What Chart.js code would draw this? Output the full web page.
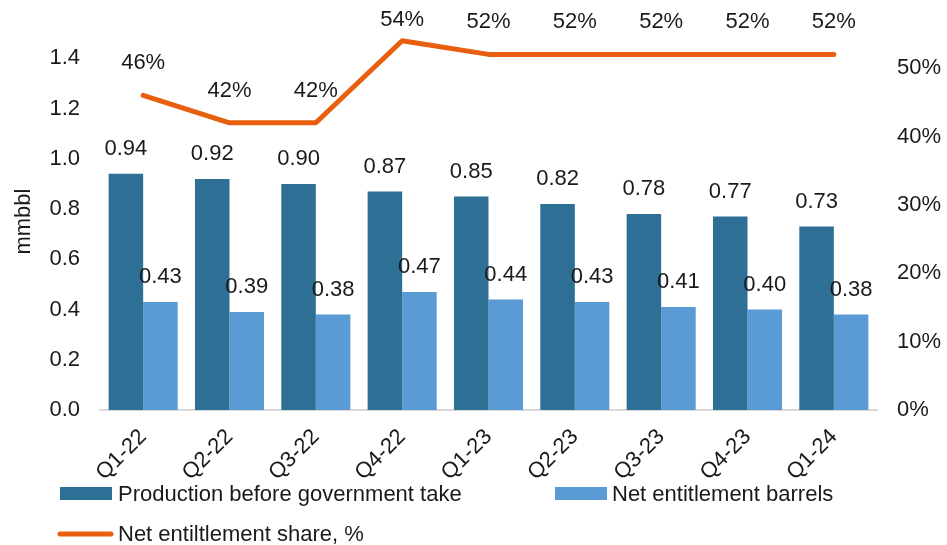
<!DOCTYPE html>
<html><head><meta charset="utf-8">
<script src="https://cdn.jsdelivr.net/npm/chart.js@4"></script>
<style>html,body{margin:0;padding:0;background:#fff}#wrap{width:947px;height:545px}</style>
</head><body><div id="wrap"><canvas id="c"></canvas></div>
<script>
const categories = ["Q1-22","Q2-22","Q3-22","Q4-22","Q1-23","Q2-23","Q3-23","Q4-23","Q1-24"];
const production = [0.94,0.92,0.90,0.87,0.85,0.82,0.78,0.77,0.73];
const netBarrels = [0.43,0.39,0.38,0.47,0.44,0.43,0.41,0.40,0.38];
const netShare = [0.46,0.42,0.42,0.54,0.52,0.52,0.52,0.52,0.52];
const seriesNames = ["Production before government take","Net entitlement barrels","Net entiltlement share, %"];

const FONT = "'Liberation Sans', Arial, sans-serif";
const FS = 22;
const DARK = "#2E6F96", LIGHT = "#5B9BD5", ORANGE = "#E8600F";

const labelPlugin = {
  id: 'valLabels',
  afterDatasetsDraw(chart) {
    const ctx = chart.ctx;
    ctx.save();
    ctx.font = FS + "px " + FONT;
    ctx.fillStyle = "#1a1a1a";
    ctx.textAlign = "center";
    ctx.textBaseline = "middle";
    chart.data.datasets.forEach((ds, di) => {
      const meta = chart.getDatasetMeta(di);
      meta.data.forEach((el, i) => {
        const v = ds.data[i];
        if (ds.type === 'line') {
          ctx.fillText(Math.round(v * 100) + "%", el.x, Math.max(el.y - 32, 20));
        } else {
          ctx.fillText(v.toFixed(2), el.x, el.y - 25);
        }
      });
    });
    ctx.restore();
  }
};

const legendPlugin = {
  id: 'customLegend',
  afterDraw(chart) {
    const ctx = chart.ctx;
    ctx.save();
    ctx.font = FS + "px " + FONT;
    ctx.textBaseline = "middle";
    ctx.textAlign = "left";
    const ds = chart.data.datasets;
    const prod = ds.find(d => d.label === seriesNames[0]);
    const net = ds.find(d => d.label === seriesNames[1]);
    const share = ds.find(d => d.label === seriesNames[2]);
    ctx.fillStyle = prod.backgroundColor; ctx.fillRect(60, 487, 52, 13);
    ctx.fillStyle = "#1a1a1a"; ctx.fillText(prod.label, 118, 495);
    ctx.fillStyle = net.backgroundColor; ctx.fillRect(555, 487, 52, 13);
    ctx.fillStyle = "#1a1a1a"; ctx.fillText(net.label, 612, 495);
    ctx.strokeStyle = share.borderColor; ctx.lineWidth = 5; ctx.lineCap = "round";
    ctx.beginPath(); ctx.moveTo(60, 534); ctx.lineTo(111, 534); ctx.stroke();
    ctx.fillText(share.label, 118, 535);
    ctx.restore();
  }
};

new Chart(document.getElementById('c'), {
  data: {
    labels: categories,
    datasets: [
      { type: 'line', label: seriesNames[2], data: netShare, yAxisID: 'y2', borderColor: ORANGE, backgroundColor: ORANGE,
        borderWidth: 5, pointRadius: 0, tension: 0, order: 0, borderCapStyle: 'round', borderJoinStyle: 'round' },
      { type: 'bar', label: seriesNames[0], data: production, yAxisID: 'y', backgroundColor: DARK, order: 1,
        categoryPercentage: 0.8, barPercentage: 1.0 },
      { type: 'bar', label: seriesNames[1], data: netBarrels, yAxisID: 'y', backgroundColor: LIGHT, order: 1,
        categoryPercentage: 0.8, barPercentage: 1.0 }
    ]
  },
  options: {
    responsive: true, maintainAspectRatio: false, animation: false,
    layout: { padding: { top: 32, bottom: 65, left: 0, right: 0 } },
    plugins: { legend: { display: false }, tooltip: { enabled: false } },
    scales: {
      x: {
        grid: { display: false, drawTicks: false },
        border: { display: true, color: "#D9D9D9", width: 2 },
        ticks: { font: { size: FS, family: FONT }, color: "#1a1a1a", maxRotation: 45, minRotation: 45, padding: 14 },
        afterFit(s) { s.height = 70; }
      },
      y: {
        position: 'left', min: 0, max: 1.5,
        grid: { display: false, drawTicks: false },
        border: { display: false },
        title: { display: true, text: 'mmbbl', font: { size: FS, family: FONT }, color: "#1a1a1a", padding: { top: 11, bottom: 0 } },
        ticks: { stepSize: 0.2, font: { size: FS, family: FONT }, color: "#1a1a1a", padding: 20,
          callback: v => v.toFixed(1) },
        afterBuildTicks(s) { s.ticks = s.ticks.filter(t => t.value <= 1.4001); },
        afterFit(s) { s.width = 100; }
      },
      y2: {
        position: 'right', min: 0, max: 0.551,
        grid: { display: false, drawTicks: false },
        border: { display: false },
        ticks: { stepSize: 0.1, font: { size: FS, family: FONT }, color: "#1a1a1a", padding: 20,
          callback: v => Math.round(v * 100) + "%" },
        afterBuildTicks(s) { s.ticks = s.ticks.filter(t => t.value <= 0.5001); },
        afterFit(s) { s.width = 70; }
      }
    }
  },
  plugins: [labelPlugin, legendPlugin]
});
</script></body></html>
